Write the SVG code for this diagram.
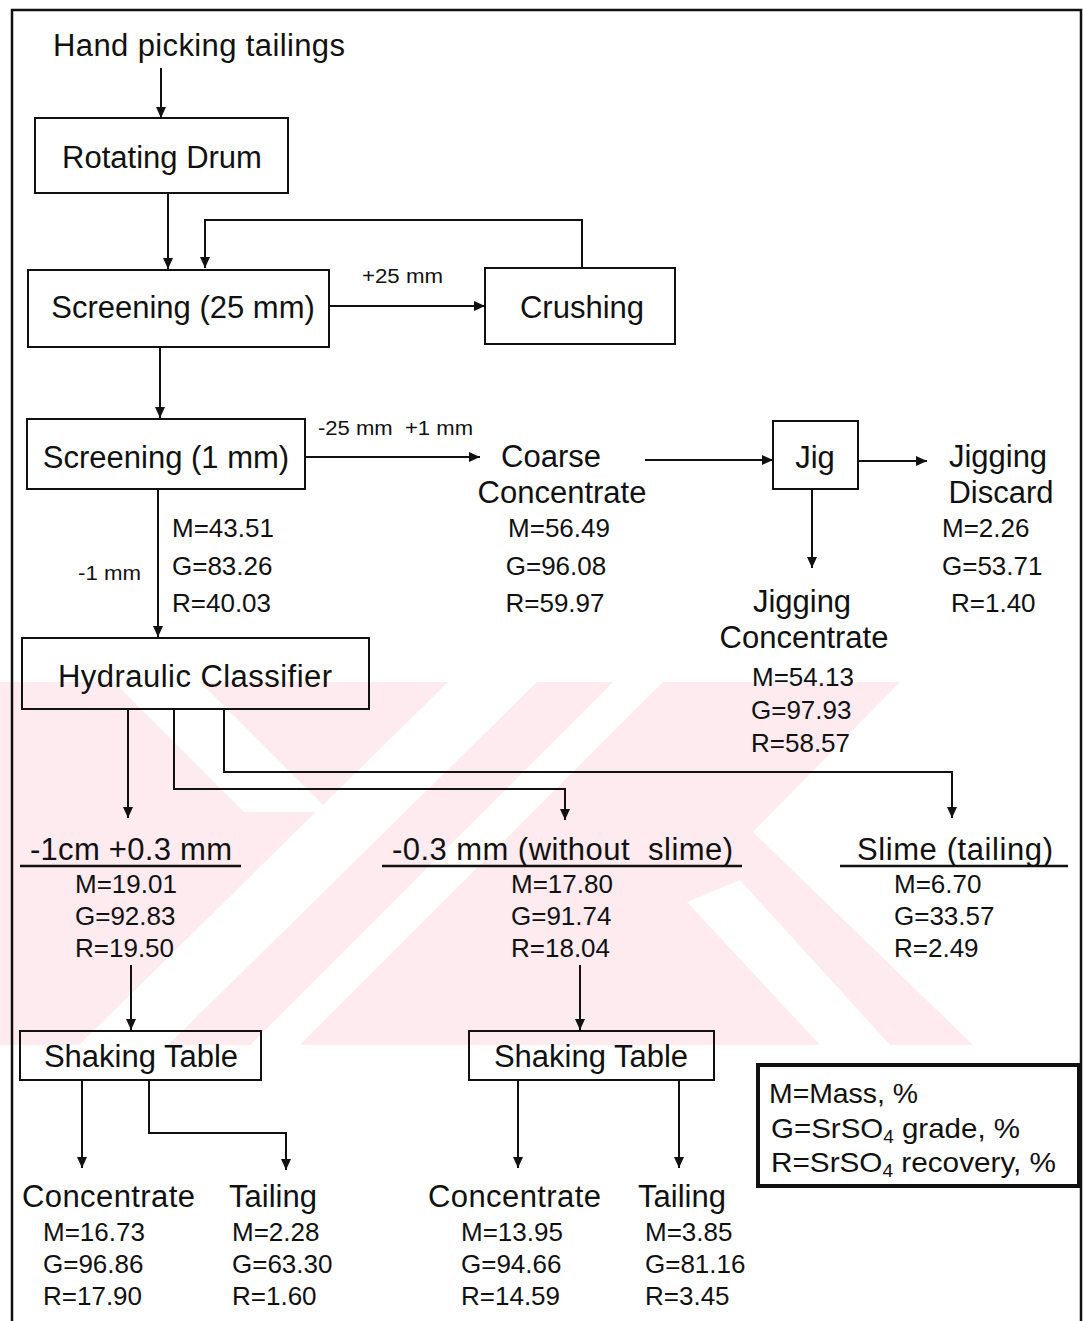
<svg xmlns="http://www.w3.org/2000/svg" width="1083" height="1321" viewBox="0 0 1083 1321">
<style>
text{font-family:"Liberation Sans",Arial,sans-serif;fill:#111;white-space:pre}
.L{font-size:31px}
.N{font-size:26px}
.S{font-size:20px}
.G{font-size:28px}
.m{text-anchor:middle}
.box{fill:none;stroke:#111;stroke-width:2}
.c{fill:none;stroke:#111;stroke-width:2}
.u{stroke:#111;stroke-width:2.5}
.wm{fill:#fdebef}
.wmw{fill:#fff}
</style>
<defs>
<marker id="ah" markerUnits="userSpaceOnUse" markerWidth="12" markerHeight="10" refX="11" refY="5" orient="auto">
<path d="M0,0 L11,5 L0,10 z" fill="#111"/>
</marker>
</defs>
<rect width="1083" height="1321" fill="#fff"/>
<g id="watermark">
<rect class="wm" x="0" y="682" width="975" height="363"/>
<polygon class="wmw" points="448,682 537,682 168,1045 79,1045"/>
<polygon class="wmw" points="114,682 200,682 330,812 244,812"/>
<polygon class="wmw" points="613,682 663,682 300,1045 250,1045"/>
<polygon class="wmw" points="900,682 976,682 976,1045 973,1045 753,832"/>
<polygon class="wmw" points="687,902 740,880 890,1045 820,1045"/>
</g>
<g id="frame">
<path d="M12,1321 L12,10 L1081,10 L1081,1321" fill="none" stroke="#111" stroke-width="2.5"/>
</g>
<g id="connectors">
<line class="c" x1="161" y1="68" x2="161" y2="118" marker-end="url(#ah)"/>
<line class="c" x1="168" y1="193" x2="168" y2="269" marker-end="url(#ah)"/>
<line class="c" x1="329" y1="306" x2="485" y2="306" marker-end="url(#ah)"/>
<polyline class="c" points="582,268 582,220 205,220 205,268" marker-end="url(#ah)"/>
<line class="c" x1="160" y1="347" x2="160" y2="418" marker-end="url(#ah)"/>
<line class="c" x1="305" y1="457" x2="480" y2="457" marker-end="url(#ah)"/>
<line class="c" x1="645" y1="460" x2="773" y2="460" marker-end="url(#ah)"/>
<line class="c" x1="858" y1="461" x2="927" y2="461" marker-end="url(#ah)"/>
<line class="c" x1="812" y1="489" x2="812" y2="568" marker-end="url(#ah)"/>
<line class="c" x1="158" y1="489" x2="158" y2="637" marker-end="url(#ah)"/>
<line class="c" x1="128" y1="709" x2="128" y2="818" marker-end="url(#ah)"/>
<polyline class="c" points="174,709 174,789 565,789 565,820" marker-end="url(#ah)"/>
<polyline class="c" points="224,709 224,772 952,772 952,818" marker-end="url(#ah)"/>
<line class="c" x1="131" y1="965" x2="131" y2="1030" marker-end="url(#ah)"/>
<line class="c" x1="580" y1="965" x2="580" y2="1030" marker-end="url(#ah)"/>
<line class="c" x1="82" y1="1080" x2="82" y2="1168" marker-end="url(#ah)"/>
<polyline class="c" points="149,1080 149,1133 286,1133 286,1170" marker-end="url(#ah)"/>
<line class="c" x1="518" y1="1080" x2="518" y2="1168" marker-end="url(#ah)"/>
<line class="c" x1="679" y1="1080" x2="679" y2="1168" marker-end="url(#ah)"/>
<text class="S" x="362" y="283" textLength="81" lengthAdjust="spacingAndGlyphs">+25 mm</text>
<text class="S" x="318" y="435" textLength="155" lengthAdjust="spacingAndGlyphs">-25 mm  +1 mm</text>
<text class="S" x="78" y="580" textLength="63" lengthAdjust="spacingAndGlyphs">-1 mm</text>
</g>
<g id="n-feed"><text class="L" x="53" y="56" textLength="292">Hand picking tailings</text></g>
<g id="n-drum"><rect class="box" x="35" y="118" width="253" height="75"/><text class="L m" x="162" y="168">Rotating Drum</text></g>
<g id="n-screen25"><rect class="box" x="28" y="270" width="301" height="77"/><text class="L m" x="183" y="318">Screening (25 mm)</text></g>
<g id="n-crush"><rect class="box" x="485" y="268" width="190" height="76"/><text class="L m" x="582" y="318">Crushing</text></g>
<g id="n-screen1"><rect class="box" x="27" y="419" width="278" height="70"/><text class="L m" x="166" y="468">Screening (1 mm)</text></g>
<g id="n-minus1">
<text class="N" x="172" y="537">M=43.51</text><text class="N" x="172" y="575">G=83.26</text><text class="N" x="172" y="612">R=40.03</text>
</g>
<g id="n-coarse">
<text class="L m" x="551" y="467">Coarse</text><text class="L m" x="562" y="503">Concentrate</text>
<text class="N m" x="559" y="537">M=56.49</text><text class="N m" x="556" y="575">G=96.08</text><text class="N m" x="555" y="612">R=59.97</text>
</g>
<g id="n-jig"><rect class="box" x="773" y="421" width="85" height="68"/><text class="L m" x="815" y="468">Jig</text></g>
<g id="n-jigdiscard">
<text class="L m" x="998" y="467">Jigging</text><text class="L m" x="1001" y="503">Discard</text>
<text class="N" x="942" y="537">M=2.26</text><text class="N" x="942" y="575">G=53.71</text><text class="N" x="951" y="612">R=1.40</text>
</g>
<g id="n-jigconc">
<text class="L m" x="802" y="612">Jigging</text><text class="L m" x="804" y="648">Concentrate</text>
<text class="N" x="752" y="686">M=54.13</text><text class="N" x="751" y="719">G=97.93</text><text class="N" x="751" y="752">R=58.57</text>
</g>
<g id="n-classifier"><rect class="box" x="22" y="638" width="347" height="71"/><text class="L m" x="195" y="687" textLength="274">Hydraulic Classifier</text></g>
<g id="n-coarsefrac">
<text class="L" x="30" y="860" textLength="202">-1cm +0.3 mm</text><line class="u" x1="20" y1="866" x2="241" y2="866"/>
<text class="N" x="75" y="893">M=19.01</text><text class="N" x="75" y="925">G=92.83</text><text class="N" x="75" y="957">R=19.50</text>
</g>
<g id="n-finefrac">
<text class="L" x="392" y="860" textLength="341">-0.3 mm (without  slime)</text><line class="u" x1="382" y1="866" x2="742" y2="866"/>
<text class="N" x="511" y="893">M=17.80</text><text class="N" x="511" y="925">G=91.74</text><text class="N" x="511" y="957">R=18.04</text>
</g>
<g id="n-slime">
<text class="L" x="857" y="860" textLength="196">Slime (tailing)</text><line class="u" x1="840" y1="866" x2="1068" y2="866"/>
<text class="N" x="894" y="893">M=6.70</text><text class="N" x="894" y="925">G=33.57</text><text class="N" x="894" y="957">R=2.49</text>
</g>
<g id="n-table1"><rect class="box" x="20" y="1031" width="241" height="49"/><text class="L m" x="141" y="1067">Shaking Table</text></g>
<g id="n-table2"><rect class="box" x="469" y="1031" width="245" height="49"/><text class="L m" x="591" y="1067">Shaking Table</text></g>
<g id="n-conc1">
<text class="L" x="22" y="1207" textLength="173">Concentrate</text>
<text class="N" x="43" y="1241">M=16.73</text><text class="N" x="43" y="1273">G=96.86</text><text class="N" x="43" y="1305">R=17.90</text>
</g>
<g id="n-tail1">
<text class="L" x="229" y="1207">Tailing</text>
<text class="N" x="232" y="1241">M=2.28</text><text class="N" x="232" y="1273">G=63.30</text><text class="N" x="232" y="1305">R=1.60</text>
</g>
<g id="n-conc2">
<text class="L" x="428" y="1207" textLength="173">Concentrate</text>
<text class="N" x="461" y="1241">M=13.95</text><text class="N" x="461" y="1273">G=94.66</text><text class="N" x="461" y="1305">R=14.59</text>
</g>
<g id="n-tail2">
<text class="L" x="638" y="1207">Tailing</text>
<text class="N" x="645" y="1241">M=3.85</text><text class="N" x="645" y="1273">G=81.16</text><text class="N" x="645" y="1305">R=3.45</text>
</g>
<g id="legend">
<rect x="758" y="1065" width="321" height="121" fill="#fff" stroke="#111" stroke-width="4"/>
<text class="G" x="769" y="1103" textLength="149" lengthAdjust="spacingAndGlyphs">M=Mass, %</text>
<text class="G" x="771" y="1138" textLength="249" lengthAdjust="spacingAndGlyphs">G=SrSO<tspan font-size="18" dy="5">4</tspan><tspan dy="-5"> grade, %</tspan></text>
<text class="G" x="771" y="1172" textLength="285" lengthAdjust="spacingAndGlyphs">R=SrSO<tspan font-size="18" dy="5">4</tspan><tspan dy="-5"> recovery, %</tspan></text>
</g>
</svg>
